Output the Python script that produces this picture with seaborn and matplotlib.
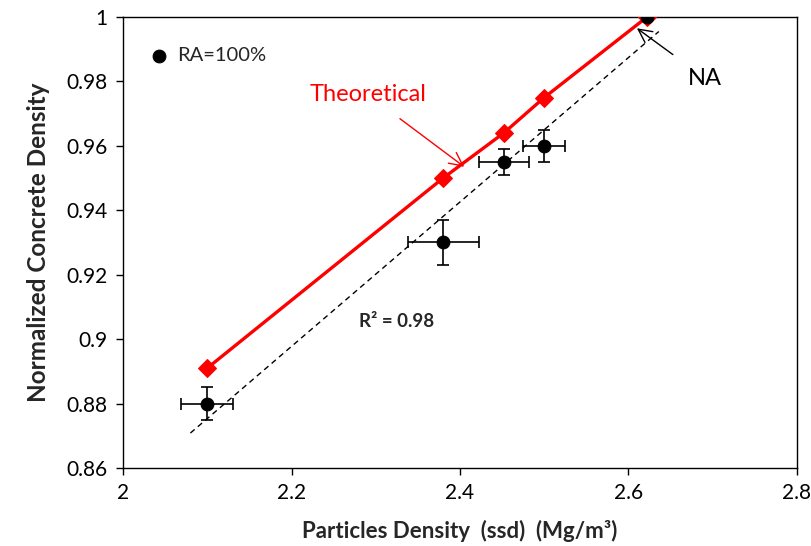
import numpy as np
import pandas as pd
import matplotlib
matplotlib.use("Agg")
import matplotlib.pyplot as plt
import seaborn as sns

# Measured data (RA=100%)
meas_x = [2.10, 2.38, 2.452, 2.50, 2.622]
meas_y = [0.880, 0.930, 0.955, 0.960, 1.000]
meas_xerr = [0.031, 0.042, 0.030, 0.025, 0.0]
meas_yerr = [0.005, 0.007, 0.004, 0.005, 0.0]

# Theoretical
theo_x = [2.10, 2.38, 2.452, 2.50, 2.622]
theo_y = [0.891, 0.950, 0.964, 0.975, 1.000]

# Regression line extent
fit_range = [2.08, 2.636]

x_ticks = [2.0, 2.2, 2.4, 2.6, 2.8]
x_ticklabels = ["2", "2.2", "2.4", "2.6", "2.8"]
y_ticks = [0.86, 0.88, 0.90, 0.92, 0.94, 0.96, 0.98, 1.00]
y_ticklabels = ["0.86", "0.88", "0.9", "0.92", "0.94", "0.96", "0.98", "1"]

sns.set_theme(style="ticks")
plt.rcParams["font.family"] = ["Lato", "DejaVu Sans"]

fig = plt.figure(figsize=(8.11, 5.46), dpi=100)
ax = fig.add_axes([0.1517, 0.1429, 0.831, 0.826])

df_meas = pd.DataFrame({"x": meas_x, "y": meas_y})
df_theo = pd.DataFrame({"x": theo_x, "y": theo_y})

# regression (dashed)
slope, intercept = np.polyfit(meas_x, meas_y, 1)
fx = np.array(fit_range)
ax.plot(fx, slope * fx + intercept, ls=(0, (4, 3)), color="black", lw=1.0, zorder=2)

# theoretical line
sns.lineplot(data=df_theo, x="x", y="y", ax=ax, color="#ff0000", lw=2.4,
             marker="D", markersize=9, markeredgecolor="#ff0000", zorder=3,
             legend=False)

# error bars
ax.errorbar(meas_x, meas_y, xerr=meas_xerr, yerr=meas_yerr, fmt="none",
            ecolor="black", elinewidth=1.2, capsize=4, capthick=1.2, zorder=4)

# measured points
sns.scatterplot(data=df_meas, x="x", y="y", ax=ax, color="black", s=85,
                edgecolor="black", zorder=5, label="RA=100%")

ax.set_xlim(2.0, 2.8)
ax.set_ylim(0.86, 1.0)
ax.set_xticks(x_ticks)
ax.set_xticklabels(x_ticklabels)
ax.set_yticks(y_ticks)
ax.set_yticklabels(y_ticklabels)
ax.tick_params(direction="out", length=5, width=1, labelsize=15, colors="black", pad=6)
for sp in ax.spines.values():
    sp.set_visible(True)
    sp.set_color("black")
    sp.set_linewidth(1.0)

ax.set_xlabel("Particles Density  (ssd)  (Mg/m³)", fontsize=16, fontweight="bold", labelpad=12)
ax.set_ylabel("Normalized Concrete Density", fontsize=17.5, fontweight="bold", labelpad=12)

ax.legend(loc="center left", frameon=False, fontsize=14.5, handletextpad=0.4,
          handlelength=1.0, borderaxespad=0, borderpad=0,
          bbox_to_anchor=(2.031, 0.988), bbox_transform=ax.transData)

ax.annotate("Theoretical", xy=(2.405, 0.9535), xytext=(2.291, 0.9758),
            color="#ff0000", fontsize=17, ha="center", va="center",
            arrowprops=dict(arrowstyle="->", color="#ff0000", lw=1.0,
                            shrinkA=12, shrinkB=0, mutation_scale=24))
ax.annotate("NA", xy=(2.61, 0.9965), xytext=(2.691, 0.981),
            color="black", fontsize=17, ha="center", va="center",
            arrowprops=dict(arrowstyle="->", color="black", lw=1.0,
                            shrinkA=12, shrinkB=0, mutation_scale=24))
ax.text(2.325, 0.9056, "R² = 0.98", fontsize=13.5, fontweight="bold", ha="center", va="center")

fig.savefig("out.png", dpi=100)
